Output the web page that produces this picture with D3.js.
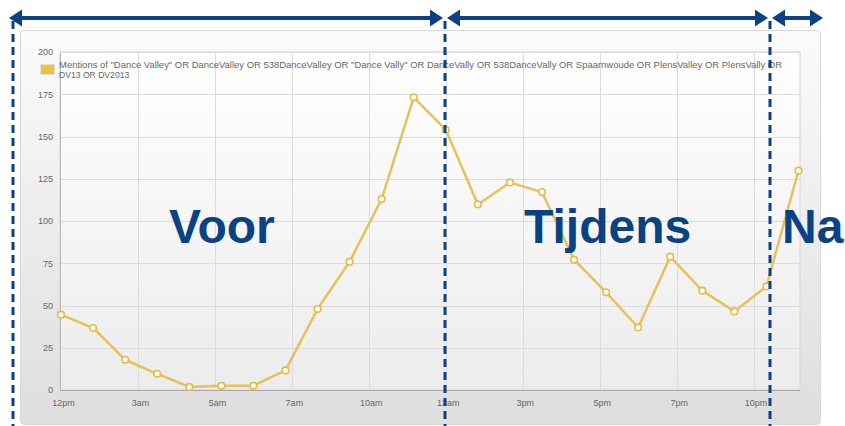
<!DOCTYPE html>
<html><head><meta charset="utf-8">
<script src="https://cdn.jsdelivr.net/npm/d3@7"></script>
<style>
html,body{margin:0;padding:0;background:#fff;}
svg{display:block;font-family:"Liberation Sans",Arial,sans-serif;}
</style></head>
<body><svg id="c" width="845" height="426"></svg>
<script>
// ---- data ----
const hours = d3.range(24);
const mentions = [44.6, 36.7, 17.9, 9.6, 1.8, 2.5, 2.5, 11.6, 47.9, 75.9, 113, 173.2, 154, 109.8, 122.8, 117.1, 77.1, 57.8, 37, 78.9, 58.8, 46.5, 61.3, 129.8];
const xTickPos = [0, 2.4, 4.8, 7.2, 9.6, 12, 14.4, 16.8, 19.2, 21.6];
const xTickLabels = ["12pm","3am","5am","7am","10am","12am","3pm","5pm","7pm","10pm"];
const yTicks = [0,25,50,75,100,125,150,175,200];
const legendLine1 = 'Mentions of "Dance Valley" OR DanceValley OR 538DanceValley OR "Dance Vally" OR DanceVally OR 538DanceVally OR Spaarnwoude OR PlensValley OR PlensVally OR';
const legendLine2 = 'DV13 OR DV2013';
const phases = ["Voor","Tijdens","Na"];

const svg = d3.select("#c");
const defs = svg.append("defs");
const g1 = defs.append("linearGradient").attr("id","panelG").attr("x1",0).attr("y1",0).attr("x2",0).attr("y2",1);
g1.append("stop").attr("offset","0%").attr("stop-color","#fbfbfb");
g1.append("stop").attr("offset","100%").attr("stop-color","#dedede");
const g2 = defs.append("linearGradient").attr("id","plotG").attr("x1",0).attr("y1",0).attr("x2",0).attr("y2",1);
g2.append("stop").attr("offset","0%").attr("stop-color","#ffffff");
g2.append("stop").attr("offset","100%").attr("stop-color","#ececec");

const x = d3.scaleLinear().domain([0,23]).range([61,798.5]);
const y = d3.scaleLinear().domain([0,200]).range([390,52]);
const plotL = 60, plotR = 800;

// panel
svg.append("rect").attr("x",20.5).attr("y",30.5).attr("width",800).attr("height",394).attr("rx",4)
  .attr("fill","url(#panelG)").attr("stroke","#d8d8d8");
// plot bg
svg.append("rect").attr("x",plotL).attr("y",y(200)).attr("width",plotR-plotL).attr("height",y(0)-y(200))
  .attr("fill","url(#plotG)").attr("stroke","#d4d4d4");

// grid
const grid = svg.append("g");
grid.selectAll("line.h").data(yTicks.slice(1)).join("line")
  .attr("x1",plotL).attr("x2",plotR).attr("y1",d=>Math.round(y(d))+0.5).attr("y2",d=>Math.round(y(d))+0.5)
  .attr("stroke","#dcdcdc").attr("stroke-width",1);
grid.selectAll("line.v").data(xTickPos.slice(1)).join("line")
  .attr("y1",y(200)).attr("y2",y(0)).attr("x1",d=>Math.round(x(d))+0.5).attr("x2",d=>Math.round(x(d))+0.5)
  .attr("stroke","#dcdcdc").attr("stroke-width",1);

// axes
const yAxis = svg.append("g").attr("transform",`translate(${plotL},0)`)
  .call(d3.axisLeft(y).tickValues(yTicks).tickSize(0).tickPadding(7));
yAxis.select(".domain").attr("stroke","#b8b8b8");
yAxis.selectAll("text").attr("fill","#666").attr("font-size","9px").attr("font-family","Liberation Sans, Arial");

const xAxis = svg.append("g").attr("transform",`translate(0,${y(0)})`)
  .call(d3.axisBottom(x).tickValues(xTickPos).tickFormat((d,i)=>xTickLabels[i]).tickSize(0).tickPadding(10));
xAxis.select(".domain").attr("d",`M${plotL},0.5H${plotR}`).attr("stroke","#aaa");
xAxis.selectAll("text").attr("fill","#666").attr("font-size","9px").attr("font-family","Liberation Sans, Arial").attr("dx","2");

// legend
svg.append("rect").attr("x",40.5).attr("y",64.5).attr("width",14).attr("height",10).attr("fill","#eec23a").attr("stroke","#e0e0e0");
svg.append("text").attr("x",59).attr("y",68).attr("font-size","8.6px").attr("fill","#666")
  .attr("textLength",723).attr("lengthAdjust","spacingAndGlyphs").text(legendLine1);
svg.append("text").attr("x",59).attr("y",78).attr("font-size","8.6px").attr("fill","#666").text(legendLine2);

// line
const line = d3.line().x((d,i)=>x(hours[i])).y(d=>y(d));
svg.append("path").datum(mentions).attr("d",line).attr("fill","none")
  .attr("stroke","#e6c25a").attr("stroke-width",2.5).attr("stroke-linejoin","round");
svg.selectAll("circle.pt").data(mentions).join("circle")
  .attr("cx",(d,i)=>x(hours[i])).attr("cy",d=>y(d)).attr("r",3.3)
  .attr("fill","#fffef5").attr("stroke","#e2bc4c").attr("stroke-width",1.6);

// annotations
const navy = "#0b4283";
const arrowY = 18;
const dashX = [13, 445, 770];
svg.append("g").selectAll("line").data(dashX).join("line")
  .attr("x1",d=>d).attr("x2",d=>d).attr("y1",21).attr("y2",426)
  .attr("stroke",navy).attr("stroke-width",3).attr("stroke-dasharray","8,5");

const arrows = [[9,443],[447,768],[772,823]];
const ag = svg.append("g").attr("fill",navy).attr("stroke",navy);
arrows.forEach(([a,b])=>{
  const hl = 13, hh = 8.5;
  ag.append("line").attr("x1",a+hl-2).attr("x2",b-hl+2).attr("y1",arrowY).attr("y2",arrowY).attr("stroke-width",4);
  ag.append("path").attr("stroke","none").attr("d",`M${a},${arrowY}L${a+hl},${arrowY-hh}L${a+hl},${arrowY+hh}Z`);
  ag.append("path").attr("stroke","none").attr("d",`M${b},${arrowY}L${b-hl},${arrowY-hh}L${b-hl},${arrowY+hh}Z`);
});

const labelX = [169, 524, 782];
svg.append("g").selectAll("text").data(phases).join("text")
  .attr("x",(d,i)=>labelX[i]).attr("y",243)
  .attr("font-size","48px").attr("font-weight","bold").attr("fill",navy)
  .attr("font-family","Liberation Sans, Arial, sans-serif").text(d=>d);
</script></body></html>
